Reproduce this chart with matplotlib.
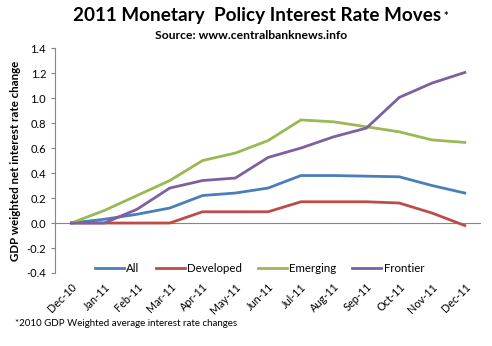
import numpy as np
import matplotlib.pyplot as plt

months = ['Dec-10', 'Jan-11', 'Feb-11', 'Mar-11', 'Apr-11', 'May-11', 'Jun-11',
          'Jul-11', 'Aug-11', 'Sep-11', 'Oct-11', 'Nov-11', 'Dec-11']
all_vals = [0.0, 0.03, 0.07, 0.12, 0.22, 0.24, 0.28, 0.38, 0.38, 0.375, 0.37, 0.30, 0.24]
developed = [0.0, 0.0, 0.0, 0.0, 0.09, 0.09, 0.09, 0.17, 0.17, 0.17, 0.16, 0.08, -0.02]
emerging = [0.0, 0.1, 0.22, 0.34, 0.5, 0.56, 0.66, 0.825, 0.81, 0.77, 0.73, 0.665, 0.645]
frontier = [0.0, 0.0, 0.11, 0.28, 0.34, 0.36, 0.525, 0.6, 0.69, 0.76, 1.005, 1.12, 1.205]
yticks = np.arange(-0.4, 1.41, 0.2)

plt.rcParams['font.family'] = ['Lato', 'DejaVu Sans']

fig = plt.figure(figsize=(4.92, 3.46), dpi=100)
ax = fig.add_axes([0.112, 0.211, 0.866, 0.65])

x = np.arange(len(months))
series = [('All', all_vals, '#4A7EBB'), ('Developed', developed, '#BE4B48'),
          ('Emerging', emerging, '#98B954'), ('Frontier', frontier, '#7D60A0')]
for name, vals, col in series:
    ax.plot(x, vals, color=col, lw=2.0, label=name)

ax.axhline(0, color='#868686', lw=0.8, zorder=0)
ax.set_xlim(-0.5, len(months) - 0.5)
ax.set_ylim(-0.4, 1.4)
ax.set_yticks(yticks)
ax.set_yticklabels(['%.1f' % v for v in yticks], fontsize=8)
ax.set_xticks(x)
ax.set_xticklabels(months, rotation=45, ha='right', rotation_mode='anchor', fontsize=7.8)
ax.tick_params(axis='x', length=0, pad=6)
ax.tick_params(axis='y', length=3, color='#868686')
for s in ['top', 'right', 'bottom']:
    ax.spines[s].set_visible(False)
ax.spines['left'].set_color('#868686')
ax.set_ylabel('GDP weighted net interest rate change', fontsize=8.3, fontweight='bold')

ax.legend(loc='lower center', ncol=4, frameon=False, fontsize=8.3,
          handlelength=2.5, handletextpad=0.2, columnspacing=1.4,
          bbox_to_anchor=(0.48, -0.05))

fig.text(0.523, 0.955, '2011 Monetary  Policy Interest Rate Moves', ha='center', va='center',
         fontsize=13.6, fontweight='bold')
fig.text(0.902, 0.952, '*', fontsize=8, fontweight='bold', va='center')
fig.text(0.511, 0.896, 'Source: www.centralbanknews.info', ha='center', va='center',
         fontsize=8.7, fontweight='bold')
fig.text(0.03, 0.065, '*2010 GDP Weighted average interest rate changes', fontsize=7, va='center')

fig.savefig('out.png', dpi=100)
